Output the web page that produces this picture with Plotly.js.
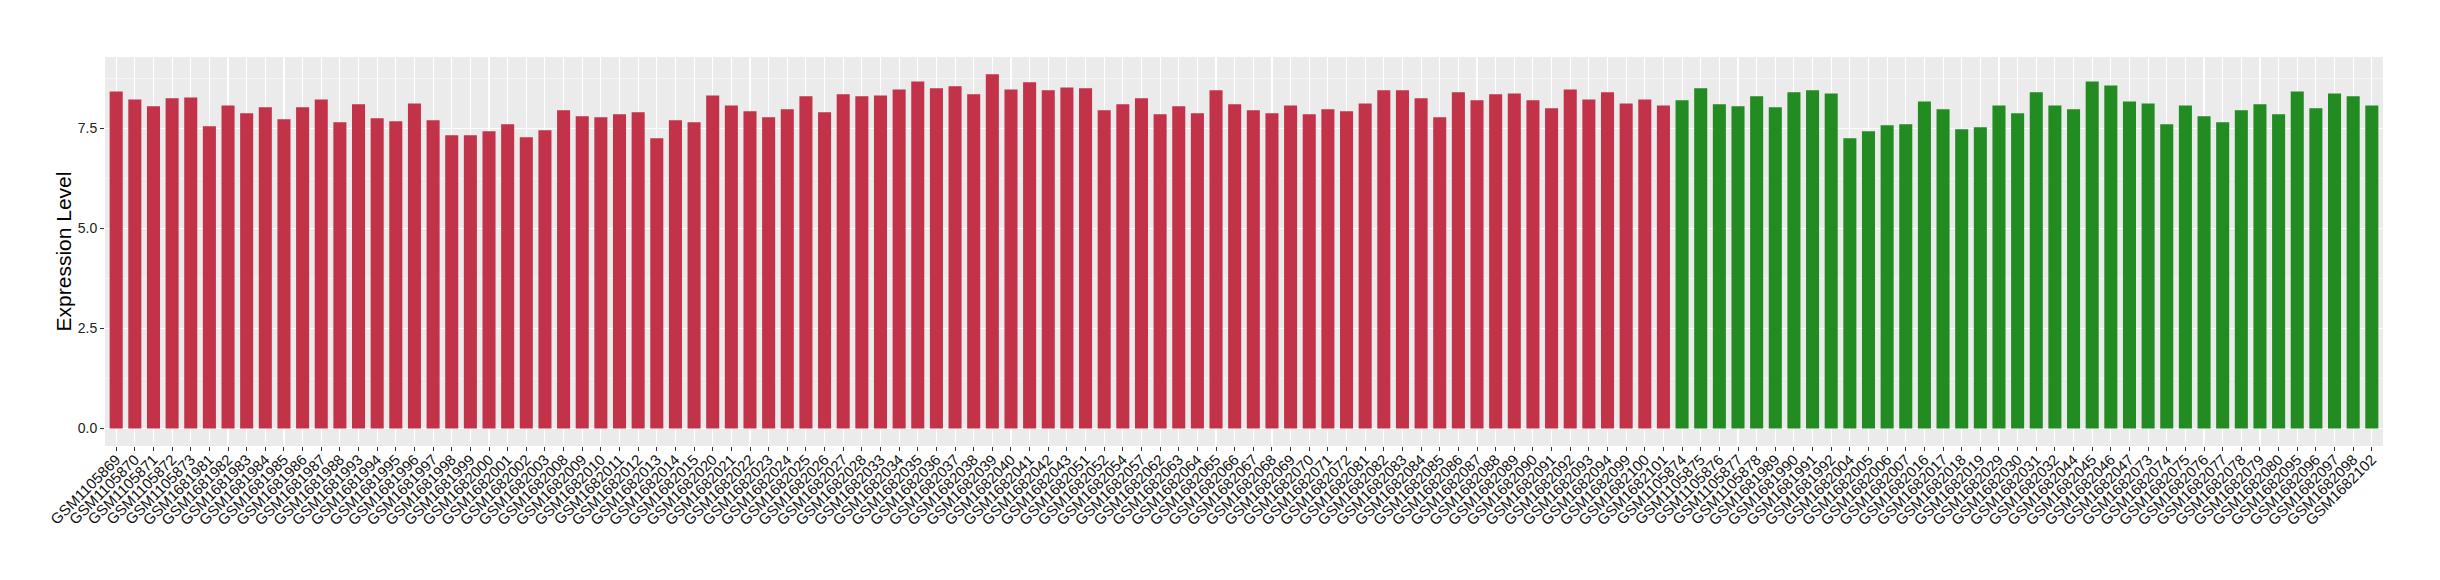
<!DOCTYPE html>
<html>
<head>
<meta charset="utf-8">
<script src="https://cdn.plot.ly/plotly-3.0.1.min.js"></script>
<style>html,body{margin:0;padding:0;background:#fff;}#chart{width:2440px;height:580px;}</style>
</head>
<body>
<div id="chart"></div>
<script>
const groupASamples = ["GSM1105869","GSM1105870","GSM1105871","GSM1105872","GSM1105873","GSM1681981","GSM1681982","GSM1681983","GSM1681984","GSM1681985","GSM1681986","GSM1681987","GSM1681988","GSM1681993","GSM1681994","GSM1681995","GSM1681996","GSM1681997","GSM1681998","GSM1681999","GSM1682000","GSM1682001","GSM1682002","GSM1682003","GSM1682008","GSM1682009","GSM1682010","GSM1682011","GSM1682012","GSM1682013","GSM1682014","GSM1682015","GSM1682020","GSM1682021","GSM1682022","GSM1682023","GSM1682024","GSM1682025","GSM1682026","GSM1682027","GSM1682028","GSM1682033","GSM1682034","GSM1682035","GSM1682036","GSM1682037","GSM1682038","GSM1682039","GSM1682040","GSM1682041","GSM1682042","GSM1682043","GSM1682051","GSM1682052","GSM1682054","GSM1682057","GSM1682062","GSM1682063","GSM1682064","GSM1682065","GSM1682066","GSM1682067","GSM1682068","GSM1682069","GSM1682070","GSM1682071","GSM1682072","GSM1682081","GSM1682082","GSM1682083","GSM1682084","GSM1682085","GSM1682086","GSM1682087","GSM1682088","GSM1682089","GSM1682090","GSM1682091","GSM1682092","GSM1682093","GSM1682094","GSM1682099","GSM1682100","GSM1682101"];
const groupAValues = [8.43,8.23,8.06,8.26,8.28,7.56,8.08,7.88,8.03,7.73,8.03,8.23,7.66,8.11,7.76,7.68,8.13,7.71,7.33,7.33,7.43,7.61,7.28,7.46,7.96,7.81,7.78,7.86,7.91,7.26,7.71,7.66,8.33,8.08,7.93,7.78,7.98,8.31,7.91,8.36,8.31,8.33,8.48,8.68,8.51,8.56,8.36,8.86,8.48,8.66,8.46,8.53,8.51,7.96,8.11,8.26,7.86,8.06,7.88,8.46,8.11,7.96,7.88,8.08,7.86,7.98,7.93,8.13,8.46,8.46,8.26,7.78,8.41,8.21,8.36,8.38,8.21,8.01,8.48,8.23,8.41,8.13,8.23,8.08];
const groupBSamples = ["GSM1105874","GSM1105875","GSM1105876","GSM1105877","GSM1105878","GSM1681989","GSM1681990","GSM1681991","GSM1681992","GSM1682004","GSM1682005","GSM1682006","GSM1682007","GSM1682016","GSM1682017","GSM1682018","GSM1682019","GSM1682029","GSM1682030","GSM1682031","GSM1682032","GSM1682044","GSM1682045","GSM1682046","GSM1682047","GSM1682073","GSM1682074","GSM1682075","GSM1682076","GSM1682077","GSM1682078","GSM1682079","GSM1682080","GSM1682095","GSM1682096","GSM1682097","GSM1682098","GSM1682102"];
const groupBValues = [8.21,8.51,8.11,8.06,8.31,8.03,8.41,8.46,8.38,7.26,7.43,7.58,7.61,8.18,7.98,7.48,7.53,8.08,7.88,8.41,8.08,7.98,8.68,8.58,8.18,8.13,7.61,8.08,7.81,7.66,7.96,8.11,7.86,8.43,8.01,8.38,8.31,8.08];
const yTickVals = [0, 2.5, 5, 7.5];
const yTickText = ["0.0", "2.5", "5.0", "7.5"];

const allSamples = groupASamples.concat(groupBSamples);
const FONT = "Liberation Sans, Arial, Helvetica, sans-serif";

const traces = [
  {type: "bar", x: groupASamples, y: groupAValues, marker: {color: "#C23249"}, showlegend: false, hoverinfo: "x+y"},
  {type: "bar", x: groupBSamples, y: groupBValues, marker: {color: "#228B22"}, showlegend: false, hoverinfo: "x+y"}
];

const layout = {
  width: 2440, height: 580,
  paper_bgcolor: "#FFFFFF", plot_bgcolor: "#EBEBEB",
  margin: {l: 105, r: 57, t: 57, b: 134, pad: 0},
  barmode: "overlay", bargap: 0.3,
  showlegend: false,
  font: {family: FONT, color: "#000000"},
  xaxis: {
    type: "category",
    categoryorder: "array", categoryarray: allSamples,
    range: [-0.6, allSamples.length - 0.4],
    tickangle: -45,
    tickfont: {family: FONT, size: 15, color: "#111111"},
    ticklabelstandoff: -6,
    showgrid: true, gridcolor: "#FFFFFF", gridwidth: 1.1,
    ticks: "outside", ticklen: 4, tickcolor: "#333333", tickwidth: 1,
    showline: false, zeroline: false, automargin: false
  },
  yaxis: {
    range: [-0.44, 9.29],
    tickvals: yTickVals, ticktext: yTickText,
    tickfont: {family: FONT, size: 14, color: "#222222"},
    showgrid: true, gridcolor: "#FFFFFF", gridwidth: 1.1,
    minor: {tickvals: [1.25, 3.75, 6.25, 8.75], showgrid: true, gridcolor: "#FFFFFF", gridwidth: 0.5, ticks: ""},
    ticks: "outside", ticklen: 4, tickcolor: "#333333", tickwidth: 1,
    showline: false, zeroline: false, automargin: false,
    title: {text: "Expression Level", font: {family: FONT, size: 21, color: "#000000"}, standoff: 0}
  }
};

Plotly.newPlot("chart", traces, layout, {displayModeBar: false, staticPlot: true});
</script>
</body>
</html>
